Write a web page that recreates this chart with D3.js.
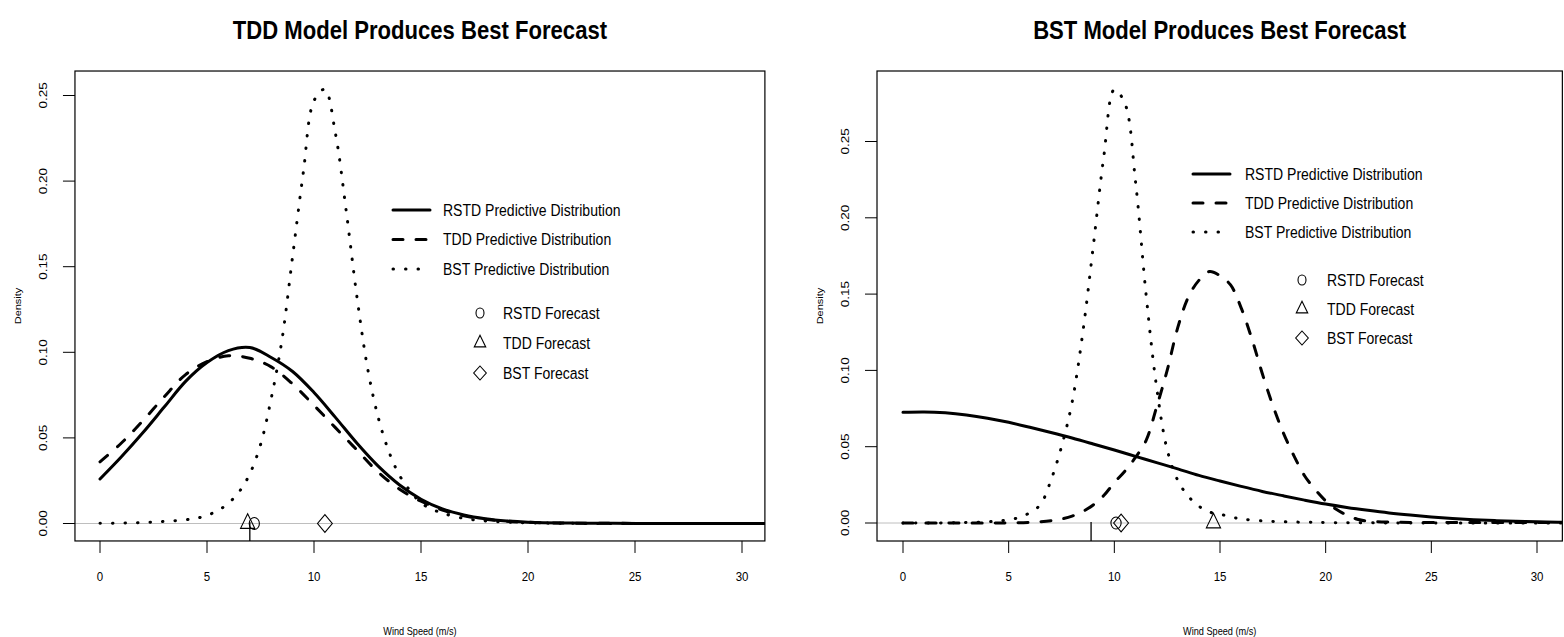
<!DOCTYPE html>
<html>
<head>
<meta charset="utf-8">
<script src="https://cdn.jsdelivr.net/npm/d3@7"></script>
<style>
  body { margin: 0; background: #fff; }
  svg { display: block; }
  text { font-family: "Liberation Sans", Arial, Helvetica, sans-serif; fill: #000; }
</style>
</head>
<body>
<svg id="chart" width="1564" height="637"></svg>
<script>
// ---------------- data ----------------
const panelTitles = ["TDD Model Produces Best Forecast", "BST Model Produces Best Forecast"];
const seriesNames = ["RSTD Predictive Distribution", "TDD Predictive Distribution", "BST Predictive Distribution"];
const forecastNames = ["RSTD Forecast", "TDD Forecast", "BST Forecast"];
const xTickValues = [0, 5, 10, 15, 20, 25, 30];
const yTickValues = [0, 0.05, 0.10, 0.15, 0.20, 0.25];
const yTickLabels = ["0.00", "0.05", "0.10", "0.15", "0.20", "0.25"];
const xAxisTitle = "Wind Speed (m/s)";
const yAxisTitle = "Density";

// Left panel: predictive densities (wind speed grid, density)
const leftRstdX = [0,1,2,3,4,5,6,7,8,9,10,11,12,13,14,15,16,17,18,19,20,22,24,26,28,30,32];
const leftRstdY = [0.026,0.039,0.053,0.068,0.083,0.094,0.101,0.1028,0.097,0.0888,0.0765,0.062,0.047,0.0335,0.0225,0.0142,0.0085,0.005,0.0028,0.0015,0.0008,0.0003,0.0001,0,0,0,0];
const leftTddX  = [0,1,2,3,4,5,6,7,8,9,10,11,12,13,14,15,16,17,18,19,20,22,24,26,28,30,32];
const leftTddY  = [0.036,0.047,0.060,0.074,0.087,0.0945,0.098,0.0965,0.0915,0.0815,0.069,0.056,0.043,0.030,0.020,0.013,0.0078,0.0045,0.0025,0.0013,0.0007,0.0002,0.0001,0,0,0,0];
const leftBstX  = [0,1,2,3,4,4.5,5,5.5,6,6.5,7,7.5,8,8.5,9,9.5,10,10.5,11,11.5,12,12.5,13,13.5,14,14.5,15,15.5,16,17,18,19,20,22,25,28,32];
const leftBstY  = [0.0001,0.0002,0.0006,0.0012,0.0022,0.003,0.0048,0.0075,0.0118,0.0185,0.029,0.046,0.073,0.107,0.156,0.205,0.247,0.2536,0.228,0.183,0.133,0.091,0.062,0.042,0.028,0.019,0.012,0.0085,0.006,0.003,0.0015,0.0008,0.0004,0.0001,0,0,0];
// Left panel: point forecasts and verifying observation
const leftForecasts = [7.21, 6.9, 10.51];
const leftObserved = 7.0;

// Right panel: predictive densities
const rightRstdX = [0,1,2,3,4,5,6,7,8,9,10,11,12,13,14,15,16,17,18,19,20,21,22,23,24,25,26,27,28,29,30,31,32];
const rightRstdY = [0.0725,0.0728,0.0722,0.0708,0.0687,0.0660,0.0627,0.0593,0.0557,0.0518,0.0478,0.0437,0.0396,0.0355,0.0312,0.0275,0.0240,0.0207,0.0178,0.0150,0.0124,0.0102,0.0083,0.0066,0.0052,0.0040,0.0030,0.0022,0.0016,0.0011,0.0008,0.0005,0.0003];
const rightTddX  = [0,2,4,5,6,7,7.5,8,8.5,9,9.5,10,10.5,11,11.5,12,12.5,13,13.5,14,14.5,15,15.5,16,16.5,17,17.5,18,18.5,19,19.5,20,20.5,21,21.5,22,23,24,26,28,30,32];
const rightTddY  = [0,0,0,0.0001,0.0004,0.0015,0.0026,0.0045,0.0075,0.0118,0.018,0.0265,0.034,0.043,0.054,0.076,0.100,0.128,0.148,0.159,0.1648,0.162,0.156,0.141,0.121,0.098,0.077,0.059,0.044,0.031,0.022,0.0145,0.009,0.0052,0.0025,0.0012,0.0006,0.0004,0.0003,0.0003,0.0003,0.0003];
const rightBstX  = [0,2,3,4,4.5,5,5.5,6,6.5,7,7.5,8,8.5,9,9.5,10,10.5,11,11.5,12,12.5,13,13.5,14,14.5,15,15.5,16,17,18,19,20,22,25,28,32];
const rightBstY  = [0,0.0001,0.0003,0.0008,0.0013,0.0022,0.0036,0.0068,0.012,0.028,0.050,0.079,0.124,0.181,0.240,0.284,0.275,0.224,0.150,0.089,0.048,0.028,0.0175,0.011,0.0072,0.0058,0.004,0.0027,0.0014,0.0008,0.0005,0.0003,0.0001,0,0,0];
const rightForecasts = [10.08, 14.69, 10.32];
const rightObserved = 8.9;

// ---------------- layout ----------------
const SX = 0.85;            // horizontal squeeze of the type
const lineStyles = [
  { dash: null },
  { dash: "10,13" },
  { dash: "0.5,12" }
];
const markerTypes = ["circle", "triangle", "diamond"];

const panels = [
  {
    title: panelTitles[0],
    x: d3.scaleLinear().domain([0, 30]).range([100, 742]),
    y: d3.scaleLinear().domain([0, 0.25]).range([523.5, 95.5]),
    xlim: [-1.17, 31.07], ylim: [-0.0102, 0.2643],
    series: [[leftRstdX, leftRstdY], [leftTddX, leftTddY], [leftBstX, leftBstY]],
    forecasts: leftForecasts, observed: leftObserved,
    legLine: { x0: 393, x1: 430, y0: 210, dy: 29.5, tx: 443 },
    legMark: { x: 480, y0: 313, dy: 30, tx: 503 }
  },
  {
    title: panelTitles[1],
    x: d3.scaleLinear().domain([0, 30]).range([903, 1537]),
    y: d3.scaleLinear().domain([0, 0.25]).range([523, 141.5]),
    xlim: [-1.23, 31.2], ylim: [-0.0118, 0.2962],
    series: [[rightRstdX, rightRstdY], [rightTddX, rightTddY], [rightBstX, rightBstY]],
    forecasts: rightForecasts, observed: rightObserved,
    legLine: { x0: 1193, x1: 1230, y0: 174, dy: 29, tx: 1245 },
    legMark: { x: 1302, y0: 280, dy: 29, tx: 1327 }
  }
];

const svg = d3.select("#chart");

function label(g, x, y, s, size, opts = {}) {
  return g.append("text")
    .attr("transform", `translate(${x},${y}) scale(${SX},1)` + (opts.rotate ? " rotate(-90)" : ""))
    .attr("text-anchor", opts.anchor || "middle")
    .attr("dominant-baseline", "central")
    .attr("font-size", size)
    .attr("font-weight", opts.bold ? "bold" : "normal")
    .text(s);
}

function marker(g, type, cx, cy, big) {
  if (type === "circle") {
    g.append("ellipse").attr("cx", cx).attr("cy", cy)
      .attr("rx", big ? 5.1 : 4).attr("ry", big ? 6 : 5)
      .attr("fill", "none").attr("stroke", "#000").attr("stroke-width", 1.1);
  } else if (type === "triangle") {
    const r = big ? 9.7 : 7.8, hw = (big ? 8.35 : 6.75) * SX;
    g.append("path")
      .attr("d", `M${cx},${cy - r}L${cx + hw},${cy + r / 2}L${cx - hw},${cy + r / 2}Z`)
      .attr("fill", "none").attr("stroke", "#000").attr("stroke-width", 1.1);
  } else {
    const h = big ? 8.8 : 7, w = big ? 7.4 : 6.3;
    g.append("path")
      .attr("d", `M${cx},${cy - h}L${cx + w},${cy}L${cx},${cy + h}L${cx - w},${cy}Z`)
      .attr("fill", "none").attr("stroke", "#000").attr("stroke-width", 1.1);
  }
}

panels.forEach((p, i) => {
  const g = svg.append("g");
  const left = p.x(p.xlim[0]), right = p.x(p.xlim[1]);
  const top = p.y(p.ylim[1]), bottom = p.y(p.ylim[0]);

  const clipId = "clip" + i;
  svg.append("defs").append("clipPath").attr("id", clipId)
    .append("rect").attr("x", left).attr("y", top)
    .attr("width", right - left).attr("height", bottom - top);

  // title
  label(g, (left + right) / 2, 30, p.title, 26, { bold: true });

  // zero reference line
  g.append("line")
    .attr("x1", left).attr("x2", right)
    .attr("y1", p.y(0)).attr("y2", p.y(0))
    .attr("stroke", "#bebebe").attr("stroke-width", 1);

  // density curves
  const plot = g.append("g").attr("clip-path", `url(#${clipId})`);
  const line = d3.line().x(d => p.x(d[0])).y(d => p.y(d[1])).curve(d3.curveCatmullRom.alpha(0.5));
  p.series.forEach(([xs, ys], k) => {
    const pts = xs.map((x, j) => [x, ys[j]]);
    const path = plot.append("path")
      .attr("d", line(pts))
      .attr("fill", "none").attr("stroke", "#000")
      .attr("stroke-width", 3)
      .attr("stroke-linecap", "round").attr("stroke-linejoin", "round");
    if (lineStyles[k].dash) path.attr("stroke-dasharray", lineStyles[k].dash);
  });

  // observation tick
  g.append("line")
    .attr("x1", p.x(p.observed)).attr("x2", p.x(p.observed))
    .attr("y1", bottom).attr("y2", bottom - 19)
    .attr("stroke", "#222").attr("stroke-width", 1.5);

  // point forecasts on the zero line
  p.forecasts.forEach((f, k) => marker(g, markerTypes[k], p.x(f), p.y(0), true));

  // plot frame
  g.append("rect")
    .attr("x", left).attr("y", top)
    .attr("width", right - left).attr("height", bottom - top)
    .attr("fill", "none").attr("stroke", "#000").attr("stroke-width", 1.2);

  // x axis
  const xa = g.append("g");
  xTickValues.forEach(v => {
    xa.append("line").attr("x1", p.x(v)).attr("x2", p.x(v))
      .attr("y1", bottom).attr("y2", bottom + 12)
      .attr("stroke", "#000").attr("stroke-width", 1);
    label(xa, p.x(v), 577, String(v), 13.5);
  });
  label(g, (left + right) / 2, 631, xAxisTitle, 10.8);

  // y axis
  const ya = g.append("g");
  yTickValues.forEach((v, k) => {
    ya.append("line").attr("x1", left).attr("x2", left - 12)
      .attr("y1", p.y(v)).attr("y2", p.y(v))
      .attr("stroke", "#000").attr("stroke-width", 1);
    label(ya, left - 32, p.y(v), yTickLabels[k], 13.5, { rotate: true });
  });
  label(g, left - 57, (top + bottom) / 2, yAxisTitle, 11, { rotate: true });

  // legend: distributions
  const L = p.legLine;
  seriesNames.forEach((name, k) => {
    const yy = L.y0 + k * L.dy;
    const ln = g.append("line").attr("x1", L.x0).attr("x2", L.x1)
      .attr("y1", yy).attr("y2", yy)
      .attr("stroke", "#000").attr("stroke-width", 3).attr("stroke-linecap", "round");
    if (lineStyles[k].dash) ln.attr("stroke-dasharray", lineStyles[k].dash);
    label(g, L.tx, yy, name, 16.5, { anchor: "start" });
  });

  // legend: forecasts
  const M = p.legMark;
  forecastNames.forEach((name, k) => {
    const yy = M.y0 + k * M.dy;
    marker(g, markerTypes[k], M.x, yy, false);
    label(g, M.tx, yy, name, 16.5, { anchor: "start" });
  });
});
</script>
</body>
</html>
